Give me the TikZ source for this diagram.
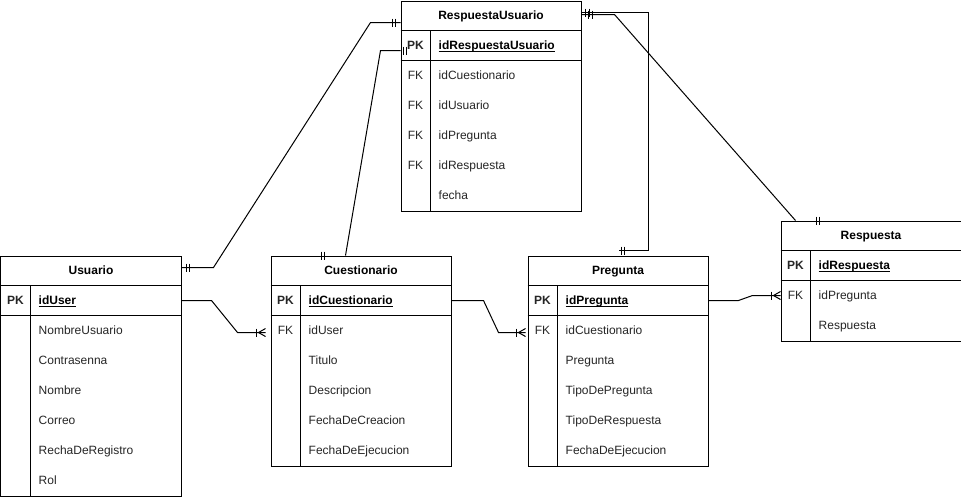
\documentclass[tikz,border=0pt]{standalone}
\usepackage{fontspec}
\setmainfont{Liberation Sans}
\usetikzlibrary{calc}

% underlined primary-key field
\newcommand\ulkey[1]{\setbox0\hbox{#1}\rlap{\rule[-2.3pt]{\wd0}{0.9pt}}#1}

% table frame: name, x, y, number of rows, title
\newcommand\ertable[5]{%
  \node[tbl, minimum height={30pt+#4*30pt}] (#1) at (#2,#3) {};
  \node[ttl] (#1-t) at ($(#1.north)+(0,15)$) {#5};
  \draw[rel] ($(#1.north west)+(0,30)$) -- ($(#1.north east)+(0,30)$);
  \draw[rel] ($(#1.north west)+(0,60)$) -- ($(#1.north east)+(0,60)$);
  \draw[rel] ($(#1.north west)+(30,30)$) -- ($(#1.south west)+(30,0)$);
}
% table row: table, index, key label, field style, field text
\newcommand\errow[5]{%
  \node[keytxt] (#1-k#2) at ($(#1.north west)+(15,45+#2*30)$) {#3};
  \node[#4] (#1-f#2) at ($(#1.north west)+(38,45+#2*30)$) {#5};
}
% one short vertical bar of a cardinality mark
\newcommand\tickv[2]{\draw[rel] ($(#1)+(#2,-4)$) -- ++(0,8);}
% "one or many" foot ending at a point, opening to the right
\newcommand\crow[1]{%
  \draw[rel] ($(#1)+(-9,-4)$) -- ++(0,8);
  \draw[rel] ($(#1)+(0,-4)$) -- ($(#1)+(-7,0)$) -- ($(#1)+(0,4)$);
}

\begin{document}
\begin{tikzpicture}[x=1pt,y=-1pt,
  rel/.style={line width=1pt, line cap=butt, line join=miter},
  tbl/.style={draw, line width=1pt, inner sep=0pt, minimum width=180pt, anchor=north west},
  ttl/.style={font=\fontsize{12}{14}\selectfont\bfseries, inner sep=0pt, text height=8.6pt, text depth=0pt},
  keytxt/.style={font=\fontsize{12}{14}\selectfont, inner sep=0pt, text height=8.6pt, text depth=0pt, text=black!85},
  pkkey/.style={font=\fontsize{12}{14}\selectfont\bfseries},
  fld/.style={font=\fontsize{12}{14}\selectfont, anchor=west, inner sep=0pt, text height=8.6pt, text depth=0pt, text=black!85},
  pkfld/.style={font=\fontsize{12}{14}\selectfont\bfseries, anchor=west, inner sep=0pt, text height=8.6pt, text depth=0pt}
]
\useasboundingbox[fill=white] (-0.5,-0.5) rectangle (960.5,495.5);

% ---- tables ----
\ertable{usu}{0}{255}{7}{Usuario}
\errow{usu}{0}{\textbf{PK}}{pkfld}{\ulkey{idUser}}
\errow{usu}{1}{}{fld}{NombreUsuario}
\errow{usu}{2}{}{fld}{Contrasenna}
\errow{usu}{3}{}{fld}{Nombre}
\errow{usu}{4}{}{fld}{Correo}
\errow{usu}{5}{}{fld}{RechaDeRegistro}
\errow{usu}{6}{}{fld}{Rol}

\ertable{cue}{270}{255}{6}{Cuestionario}
\errow{cue}{0}{\textbf{PK}}{pkfld}{\ulkey{idCuestionario}}
\errow{cue}{1}{FK}{fld}{idUser}
\errow{cue}{2}{}{fld}{Titulo}
\errow{cue}{3}{}{fld}{Descripcion}
\errow{cue}{4}{}{fld}{FechaDeCreacion}
\errow{cue}{5}{}{fld}{FechaDeEjecucion}

\ertable{pre}{527}{255}{6}{Pregunta}
\errow{pre}{0}{\textbf{PK}}{pkfld}{\ulkey{idPregunta}}
\errow{pre}{1}{FK}{fld}{idCuestionario}
\errow{pre}{2}{}{fld}{Pregunta}
\errow{pre}{3}{}{fld}{TipoDePregunta}
\errow{pre}{4}{}{fld}{TipoDeRespuesta}
\errow{pre}{5}{}{fld}{FechaDeEjecucion}

\ertable{ru}{400}{0}{6}{RespuestaUsuario}
\errow{ru}{0}{\textbf{PK}}{pkfld}{\ulkey{idRespuestaUsuario}}
\errow{ru}{1}{FK}{fld}{idCuestionario}
\errow{ru}{2}{FK}{fld}{idUsuario}
\errow{ru}{3}{FK}{fld}{idPregunta}
\errow{ru}{4}{FK}{fld}{idRespuesta}
\errow{ru}{5}{}{fld}{fecha}

\ertable{res}{780}{220}{3}{Respuesta}
\errow{res}{0}{\textbf{PK}}{pkfld}{\ulkey{idRespuesta}}
\errow{res}{1}{FK}{fld}{idPregunta}
\errow{res}{2}{}{fld}{Respuesta}

% ---- relationships ----
% Usuario -- RespuestaUsuario
\coordinate (c1a) at ($(usu.north east)+(0,12)$);
\coordinate (c1b) at ($(ru.north west)+(0,22)$);
\draw[rel] (c1a) -- ++(32,0) -- ($(c1b)+(-30,0)$) -- (c1b);
\tickv{c1a}{5}\tickv{c1a}{8}
\tickv{c1b}{-8}\tickv{c1b}{-5}

% Cuestionario -- RespuestaUsuario
\coordinate (c2a) at ($(cue.north west)+(75,0)$);
\coordinate (c2b) at ($(ru.north west)+(0,50)$);
\coordinate (c2m) at ($(cue.north west)+(51,0)$);
\draw[rel] (c2a) -- ($(c2b)+(-20,0)$) -- (c2b);
\tickv{c2m}{0}\tickv{c2m}{3}
\tickv{c2b}{3}\tickv{c2b}{6}

% RespuestaUsuario -- Pregunta
\coordinate (c3a) at ($(ru.north east)+(0,12)$);
\coordinate (c3b) at ($(pre.north west)+(91,-5)$);
\draw[rel] (c3a) -- ++(67,0) |- (c3b);
\tickv{c3a}{4}\tickv{c3a}{8}
\tickv{c3b}{3}\tickv{c3b}{6}

% RespuestaUsuario -- Respuesta
\coordinate (c4a) at ($(ru.north east)+(0,14)$);
\coordinate (c4b) at ($(res.north west)+(15,0)$);
\coordinate (c4m) at ($(res.north west)+(36,0)$);
\draw[rel] (c4a) -- ++(33,0) -- (c4b);
\tickv{c4a}{7}\tickv{c4a}{11}
\tickv{c4m}{0}\tickv{c4m}{3}

% Usuario -- Cuestionario
\coordinate (c5a) at (usu.east |- usu-k0);
\coordinate (c5b) at ($(cue.north west)+(-5,77)$);
\draw[rel] (c5a) -- ++(30,0) -- ($(c5b)+(-28,0)$) -- (c5b);
\crow{c5b}

% Cuestionario -- Pregunta
\coordinate (c6a) at (cue.east |- cue-k0);
\coordinate (c6b) at ($(pre.north west)+(-2,77)$);
\draw[rel] (c6a) -- ++(32,0) -- ($(c6b)+(-27,0)$) -- (c6b);
\crow{c6b}

% Pregunta -- Respuesta
\coordinate (c7a) at (pre.east |- pre-k0);
\coordinate (c7b) at (res.west |- res-k1);
\draw[rel] (c7a) -- ++(30,0) -- ($(c7b)+(-28,0)$) -- (c7b);
\crow{c7b}
\end{tikzpicture}
\end{document}
